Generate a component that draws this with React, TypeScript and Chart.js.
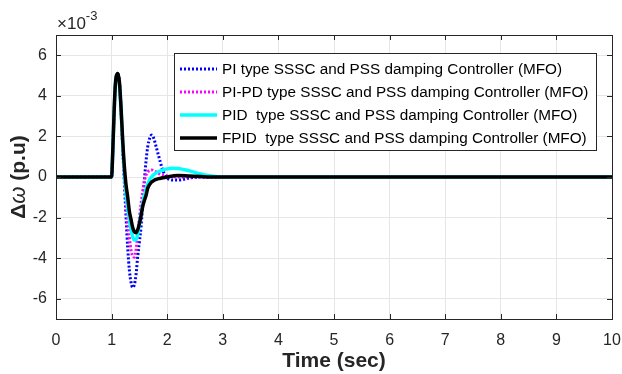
import React, { useEffect, useRef } from "react";
import { Chart, registerables } from "chart.js";

Chart.register(...registerables);

const TIME = [0, 1.0, 1.02, 1.04, 1.06, 1.08, 1.11, 1.14, 1.17, 1.2, 1.23, 1.26, 1.29, 1.32, 1.35, 1.38, 1.41, 1.44, 1.47, 1.5, 1.53, 1.56, 1.59, 1.62, 1.65, 1.69, 1.72, 1.76, 1.8, 1.85, 1.9, 1.95, 2.0, 2.1, 2.2, 2.4, 2.6, 2.8, 3.0, 3.5, 10];

const PI_MFO = [0, 0, 1.2, 2.8, 4.2, 4.9, 5.1, 4.7, 3.3, 1.4, -0.3, -2.0, -3.5, -4.6, -5.2, -5.45, -5.3, -4.8, -3.9, -3.2, -2.45, -1.3, -0.15, 0.8, 1.5, 1.95, 2.07, 1.9, 1.5, 1.0, 0.5, 0.15, -0.05, -0.15, -0.15, -0.05, 0, 0, 0, 0, 0];
const PIPD_MFO = [0, 0, 1.2, 2.8, 4.2, 4.9, 5.1, 4.7, 3.3, 1.5, 0.0, -1.2, -2.2, -3.0, -3.6, -3.9, -3.95, -3.6, -2.8, -2.0, -1.3, -0.7, -0.2, 0.1, 0.25, 0.33, 0.35, 0.3, 0.25, 0.17, 0.1, 0.07, 0.05, 0.02, 0, 0, 0, 0, 0, 0, 0];
const PID_MFO = [0, 0, 1.2, 2.8, 4.2, 4.9, 5.05, 4.6, 3.3, 1.6, 0.2, -0.8, -1.5, -2.1, -2.6, -2.95, -3.1, -3.1, -2.8, -2.3, -1.8, -1.3, -0.9, -0.6, -0.35, -0.1, 0.0, 0.12, 0.2, 0.27, 0.33, 0.37, 0.4, 0.43, 0.42, 0.3, 0.15, 0.05, 0.0, 0, 0];
const FPID_MFO = [0, 0, 1.2, 2.8, 4.2, 4.9, 5.1, 4.7, 3.4, 1.8, 0.5, -0.4, -1.0, -1.7, -2.1, -2.5, -2.7, -2.75, -2.6, -2.3, -1.9, -1.45, -1.15, -0.9, -0.55, -0.35, -0.25, -0.17, -0.12, -0.08, -0.05, -0.02, 0, 0.05, 0.08, 0.05, 0.02, 0, 0, 0, 0];

const SERIES_NAMES = [
  "PI type SSSC and PSS damping Controller (MFO)",
  "PI-PD type SSSC and PSS damping Controller (MFO)",
  "PID  type SSSC and PSS damping Controller (MFO)",
  "FPID  type SSSC and PSS damping Controller (MFO)",
];
const SERIES_VALUES = [PI_MFO, PIPD_MFO, PID_MFO, FPID_MFO];
const SERIES_COLORS = ["#0000ff", "#ff00ff", "#00ffff", "#000000"];
const SERIES_DASH = [[2, 2], [2, 2], [], []];
const SERIES_WIDTH = [3, 3, 3.5, 3.5];

const X_TICKS = [0, 1, 2, 3, 4, 5, 6, 7, 8, 9, 10];
const Y_TICKS = [-6, -4, -2, 0, 2, 4, 6];

const FONT = "'Liberation Sans', Arial, sans-serif";
const AXIS_COLOR = "#262626";

const framePlugin = {
  id: "frame",
  afterDraw(chart: any) {
    const { ctx, chartArea: a, scales } = chart;
    ctx.save();
    ctx.strokeStyle = AXIS_COLOR;
    ctx.lineWidth = 1;
    ctx.strokeRect(Math.round(a.left) + 0.5, Math.round(a.top) + 0.5, Math.round(a.right - a.left), Math.round(a.bottom - a.top));
    const tl = 5;
    ctx.beginPath();
    for (const v of X_TICKS) {
      const x = Math.round(scales.x.getPixelForValue(v)) + 0.5;
      ctx.moveTo(x, a.bottom);
      ctx.lineTo(x, a.bottom - tl);
      ctx.moveTo(x, a.top);
      ctx.lineTo(x, a.top + tl);
    }
    for (const v of Y_TICKS) {
      const y = Math.round(scales.y.getPixelForValue(v)) + 0.5;
      ctx.moveTo(a.left, y);
      ctx.lineTo(a.left + tl, y);
      ctx.moveTo(a.right, y);
      ctx.lineTo(a.right - tl, y);
    }
    ctx.stroke();

    // exponent label
    ctx.fillStyle = AXIS_COLOR;
    ctx.textBaseline = "alphabetic";
    ctx.textAlign = "left";
    ctx.font = `17px ${FONT}`;
    const base = "\u00d710";
    ctx.fillText(base, a.left + 1, a.top - 6);
    const w = ctx.measureText(base).width;
    ctx.font = `13px ${FONT}`;
    ctx.fillText("-3", a.left + 1 + w, a.top - 15);

    // y title
    ctx.save();
    ctx.translate(19, (a.top + a.bottom) / 2);
    ctx.rotate(-Math.PI / 2);
    const parts = [
      { t: "\u0394", f: `bold 21px ${FONT}` },
      { t: "\u03c9", f: `italic 22px ${FONT}` },
      { t: " (p.u)", f: `bold 21px ${FONT}` },
    ];
    let total = 0;
    for (const p of parts) {
      ctx.font = p.f;
      total += ctx.measureText(p.t).width;
    }
    let cx = -total / 2;
    ctx.textBaseline = "middle";
    for (const p of parts) {
      ctx.font = p.f;
      ctx.fillText(p.t, cx, 0);
      cx += ctx.measureText(p.t).width;
    }
    ctx.restore();

    // legend
    const lx = 174, ly = 53, lw = 422, lh = 97;
    ctx.fillStyle = "#ffffff";
    ctx.fillRect(lx, ly, lw, lh);
    ctx.strokeStyle = AXIS_COLOR;
    ctx.lineWidth = 1;
    ctx.strokeRect(lx + 0.5, ly + 0.5, lw, lh);
    ctx.font = `15.3px ${FONT}`;
    ctx.textBaseline = "middle";
    ctx.textAlign = "left";
    for (let i = 0; i < SERIES_NAMES.length; i++) {
      const y = ly + 16 + i * 23;
      ctx.beginPath();
      ctx.strokeStyle = SERIES_COLORS[i];
      ctx.lineWidth = SERIES_WIDTH[i];
      ctx.setLineDash(SERIES_DASH[i]);
      ctx.moveTo(lx + 6, y);
      ctx.lineTo(lx + 43, y);
      ctx.stroke();
      ctx.setLineDash([]);
      ctx.fillStyle = "#000000";
      ctx.fillText(SERIES_NAMES[i], lx + 48, y + 1);
    }
    ctx.restore();
  },
};

export default function App() {
  const ref = useRef<HTMLCanvasElement>(null);
  useEffect(() => {
    document.body.style.margin = "0";
    const canvas = ref.current!;
    const datasets = SERIES_NAMES.map((name, i) => ({
      label: name,
      data: TIME.map((t, k) => ({ x: t, y: SERIES_VALUES[i][k] })),
      borderColor: SERIES_COLORS[i],
      borderWidth: SERIES_WIDTH[i],
      borderDash: SERIES_DASH[i],
      pointRadius: 0,
      fill: false,
      cubicInterpolationMode: "monotone" as const,
      order: 3 - i,
    }));
    const chart = new Chart(canvas, {
      type: "line",
      data: { datasets },
      options: {
        animation: false,
        responsive: false,
        layout: { padding: { top: 35, right: 10, left: 0, bottom: 0 } },
        plugins: { legend: { display: false }, tooltip: { enabled: false } },
        scales: {
          x: {
            type: "linear",
            min: 0,
            max: 10,
            afterBuildTicks: (axis: any) => {
              axis.ticks = X_TICKS.map((v) => ({ value: v }));
            },
            afterFit: (axis: any) => {
              axis.height = 55;
              axis.paddingLeft = 0;
              axis.paddingRight = 0;
            },
            grid: { color: "#e6e6e6", drawTicks: false },
            border: { display: false },
            ticks: { color: AXIS_COLOR, font: { family: FONT, size: 16 }, padding: 12, maxRotation: 0 },
            title: { display: true, text: "Time (sec)", color: AXIS_COLOR, font: { family: FONT, size: 21, weight: "bold" }, padding: { top: 0, bottom: 0 } },
          },
          y: {
            type: "linear",
            min: -7,
            max: 7,
            afterBuildTicks: (axis: any) => {
              axis.ticks = Y_TICKS.map((v) => ({ value: v }));
            },
            afterFit: (axis: any) => {
              axis.width = 56;
            },
            grid: { color: "#e6e6e6", drawTicks: false },
            border: { display: false },
            ticks: { color: AXIS_COLOR, font: { family: FONT, size: 16 }, padding: 9 },
          },
        },
      },
      plugins: [framePlugin],
    });
    return () => chart.destroy();
  }, []);
  return (
    <div style={{ width: 622, height: 374, position: "relative" }}>
      <canvas ref={ref} width={622} height={374} style={{ display: "block" }} />
    </div>
  );
}
